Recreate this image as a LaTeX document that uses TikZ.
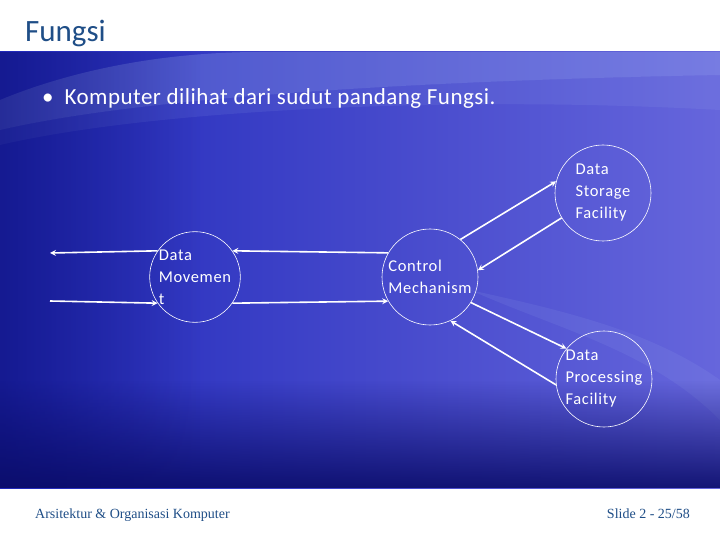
\documentclass[tikz,border=0pt]{standalone}
\usepackage{fontspec}
\setmainfont{Carlito}
\newfontfamily\circfont[LetterSpace=4]{Carlito}
\newfontfamily\pointfont[LetterSpace=2]{Carlito}
\newfontfamily\footfont{Liberation Serif}
\usetikzlibrary{fadings}
\definecolor{titleblue}{RGB}{31,78,135}
\definecolor{panelleft}{RGB}{32,40,185}
\definecolor{panelright}{RGB}{102,102,220}
\definecolor{panelnavy}{RGB}{10,12,105}
\definecolor{panellight}{RGB}{170,190,245}
\begin{document}
\begin{tikzpicture}[x=1pt,y=-1pt,
        every node/.style={inner sep=0pt},
        func/.style={circle,draw=white,line width=0.6pt,minimum size=96pt,text=white,align=left,font=\circfont\fontsize{16.5}{22}\selectfont},
        flow/.style={->,>=stealth,draw=white,line width=1.6pt}
    ]
        \useasboundingbox (0,0) rectangle (720,540);
        \fill[white] (0,0) rectangle (720,540);
        \shade[left color=panelleft,right color=panelright] (0,52) rectangle (720,488);
        \fill[panellight,opacity=0.25] (0,100) .. controls (60,75) and (150,52) .. (260,52) -- (720,52) -- (720,75) .. controls (450,80) and (150,95) .. (0,130) -- cycle;
        \fill[panellight,opacity=0.1] (720,75) .. controls (450,80) and (150,95) .. (0,130) -- (0,145) .. controls (150,110) and (450,95) .. (720,110) -- cycle;
        \fill[panellight,opacity=0.1] (470,290) .. controls (560,330) and (650,350) .. (720,420) -- (720,380) .. controls (650,330) and (560,310) .. (470,290) -- cycle;
        \fill[panelnavy,opacity=0.9,path fading=north] (0,380) rectangle (720,488);
        \fill[panelnavy,opacity=0.5,path fading=east] (0,52) rectangle (200,488);

        \node[anchor=base west,text=titleblue,font=\fontsize{31}{36}\selectfont] (title) at (25,42) {Fungsi};
        \node[anchor=base west,text=white,font=\pointfont\fontsize{23}{27}\selectfont] (point) at (42,105) {\textbullet\hspace{11pt}Komputer dilihat dari sudut pandang Fungsi.};

        \node[func,minimum size=84pt] (move) at (195,277) {Data\\Movemen\\t};
        \node[func] (ctrl) at (430,277) {Control\\Mechanism};
        \node[func] (store) at (603,193) {Data\\Storage\\Facility};
        \node[func] (proc) at (604,379) {Data\\Processing\\Facility};

        \coordinate (outl) at (50,253);
        \coordinate (inl) at (50,301);

        \draw[flow] (move.145) -- (outl);
        \draw[flow] (inl) -- (move.215);
        \draw[flow] (ctrl.150) -- (move.35);
        \draw[flow] (move.-35) -- (ctrl.210);
        \draw[flow] (ctrl.51) -- (store.166);
        \draw[flow] (store.211) -- (ctrl.8);
        \draw[flow] (ctrl.-32) -- (proc.141);
        \draw[flow] (proc.187) -- (ctrl.-65);

        \node[anchor=base west,text=titleblue,font=\footfont\fontsize{14}{16}\selectfont] (course) at (35,518) {Arsitektur \& Organisasi Komputer};
        \node[anchor=base east,text=titleblue,font=\footfont\fontsize{14}{16}\selectfont] (slide) at (690,518) {Slide 2 - 25/58};
    \end{tikzpicture}
\end{document}
